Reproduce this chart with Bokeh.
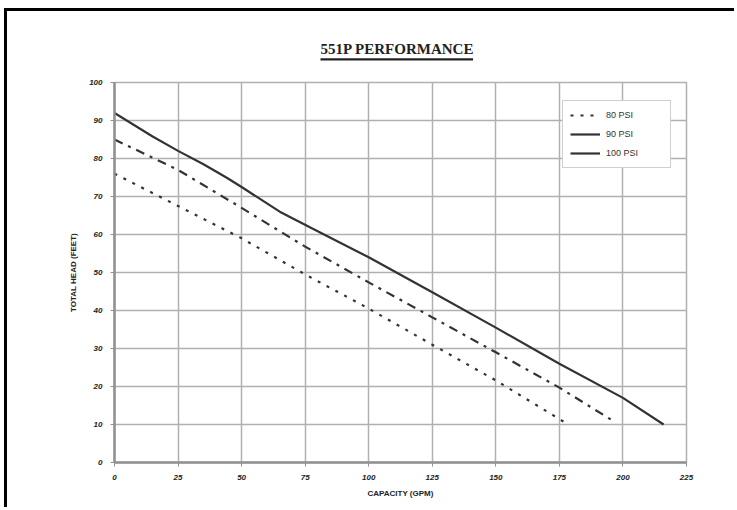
from bokeh.plotting import figure
from bokeh.models import Legend, LegendItem, Range1d, FixedTicker, Title
from bokeh.embed import file_html
from bokeh.resources import INLINE

# Data
x_ticks = [0, 25, 50, 75, 100, 125, 150, 175, 200, 225]
y_ticks = [0, 10, 20, 30, 40, 50, 60, 70, 80, 90, 100]

psi80_x = [0, 25, 50, 75, 100, 125, 150, 178]
psi80_y = [76, 67.5, 59, 49.5, 40.5, 31, 21.6, 10.2]

psi90_x = [0, 25, 50, 75, 100, 125, 150, 175, 196]
psi90_y = [85, 77, 67, 56.8, 47.4, 38.2, 29, 19.7, 11]

psi100_x = [0, 15, 25, 35, 44, 50, 65, 78, 100, 125, 150, 175, 200, 216]
psi100_y = [92, 85.8, 82, 78.5, 75, 72.5, 66, 61.5, 54, 44.8, 35.5, 26, 17, 10]

p = figure(width=730, height=499, output_backend="svg", toolbar_location=None,
           x_range=Range1d(0, 225), y_range=Range1d(0, 100), title_location=None,
           min_border_left=107, min_border_right=51, min_border_top=71, min_border_bottom=48)
p.styles = {"border-left": "3px solid black", "border-top": "3px solid black",
            "margin-left": "4px", "margin-top": "8px"}
p.background_fill_color = "white"
p.border_fill_color = "white"
p.outline_line_color = "#b0b0b0"
p.outline_line_width = 1.5

# spacer (closest to frame), underline, then the title itself
spacer = Title(text=" ", align="left", offset=206, text_font_size="1px", standoff=19)
p.add_layout(spacer, "above")
underline = Title(text=" ", align="left", offset=206, text_font_size="2px",
                  padding=(0, 152, 0, 0), standoff=0,
                  background_fill_color="#222222", background_fill_alpha=1)
p.add_layout(underline, "above")
t = Title(text="551P PERFORMANCE", align="left", text_font="Liberation Serif",
          text_font_size="15px", text_font_style="bold", text_color="#222222",
          standoff=0, offset=206)
p.add_layout(t, "above")

for ax in (p.xaxis, p.yaxis):
    ax.major_label_text_font = "Liberation Sans"
    ax.major_label_text_font_size = "8px"
    ax.major_label_text_font_style = "bold italic"
    ax.major_label_text_color = "#222222"
    ax.axis_label_text_font = "Liberation Sans"
    ax.axis_label_text_font_size = "8px"
    ax.axis_label_text_font_style = "bold"
    ax.axis_label_text_color = "#222222"
    ax.axis_line_color = "#909090"
    ax.axis_line_width = 2.5
    ax.major_tick_line_color = "#909090"
    ax.major_tick_in = 0
    ax.major_tick_out = 4
    ax.minor_tick_line_color = None

p.xaxis.ticker = FixedTicker(ticks=x_ticks)
p.yaxis.ticker = FixedTicker(ticks=y_ticks)
p.xaxis.axis_label = "CAPACITY (GPM)"
p.yaxis.axis_label = "TOTAL HEAD (FEET)"
p.xaxis.major_label_standoff = 8
p.yaxis.major_label_standoff = 8
p.xaxis.axis_label_standoff = 6
p.yaxis.axis_label_standoff = 8

p.xgrid.ticker = FixedTicker(ticks=x_ticks)
p.ygrid.ticker = FixedTicker(ticks=y_ticks)
p.xgrid.grid_line_color = "#b0b0b0"
p.ygrid.grid_line_color = "#b0b0b0"
p.xgrid.grid_line_width = 1.5
p.ygrid.grid_line_width = 1.5

r80 = p.line(psi80_x, psi80_y, line_color="#333333", line_width=2.2, line_dash="3 7")
r90 = p.line(psi90_x, psi90_y, line_color="#333333", line_width=2.2, line_dash="9 6 3 6")
r100 = p.line(psi100_x, psi100_y, line_color="#333333", line_width=2.2)

r90_leg = p.line([0, 1], [200, 200], line_color="#333333", line_width=2.2)

legend = Legend(items=[LegendItem(label="80 PSI", renderers=[r80]),
                       LegendItem(label="90 PSI", renderers=[r90_leg]),
                       LegendItem(label="100 PSI", renderers=[r100])],
                location=(448, 294), margin=0, padding=7, spacing=5,
                glyph_width=30, glyph_height=14, label_height=14, label_width=57,
                label_standoff=6,
                label_text_font="Liberation Sans", label_text_font_size="9px",
                label_text_color="#333333",
                border_line_color="#a0a0a0", border_line_width=1.5,
                background_fill_color="white", background_fill_alpha=1)
p.add_layout(legend, "center")

open("out.html", "w").write(file_html(p, INLINE))
